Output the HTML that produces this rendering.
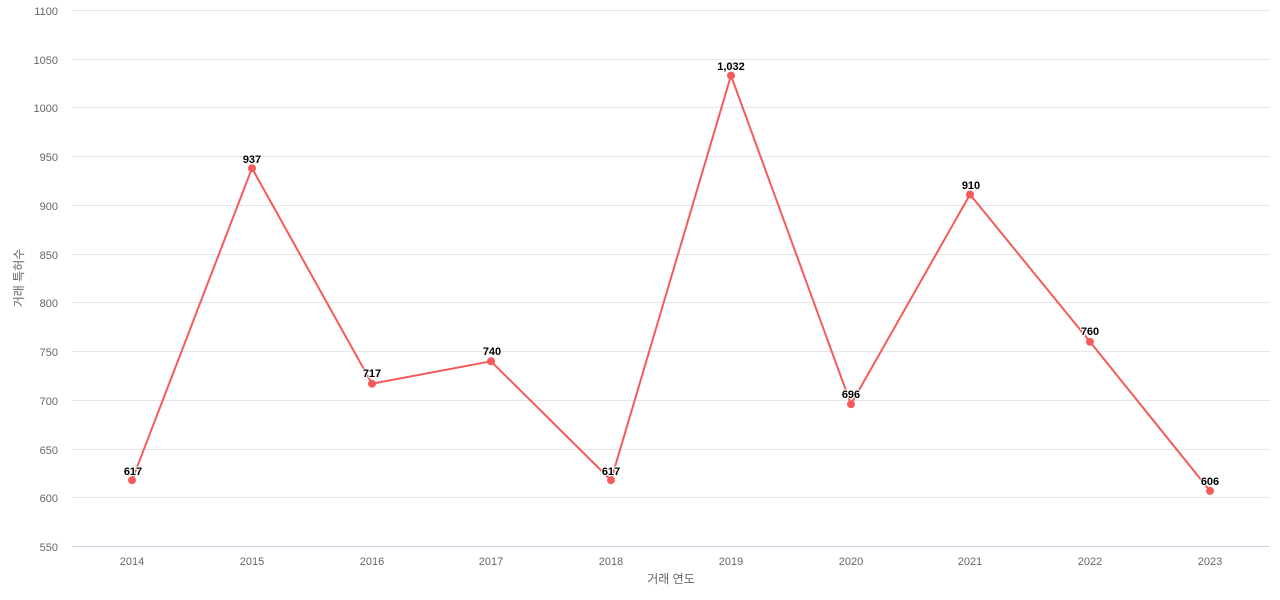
<!DOCTYPE html>
<html><head><meta charset="utf-8"><style>
body{margin:0;background:#fff}
svg{display:block;font-family:"Liberation Sans","Noto Sans CJK KR",sans-serif}
</style></head><body>
<svg width="1280" height="600" viewBox="0 0 1280 600">
<g stroke="#e6e6e6" stroke-width="1">
<line x1="72" x2="1270" y1="10.5" y2="10.5"/><line x1="72" x2="1270" y1="59.5" y2="59.5"/>
<line x1="72" x2="1270" y1="107.5" y2="107.5"/><line x1="72" x2="1270" y1="156.5" y2="156.5"/>
<line x1="72" x2="1270" y1="205.5" y2="205.5"/><line x1="72" x2="1270" y1="254.5" y2="254.5"/>
<line x1="72" x2="1270" y1="302.5" y2="302.5"/><line x1="72" x2="1270" y1="351.5" y2="351.5"/>
<line x1="72" x2="1270" y1="400.5" y2="400.5"/><line x1="72" x2="1270" y1="449.5" y2="449.5"/>
<line x1="72" x2="1270" y1="497.5" y2="497.5"/>
</g>
<line x1="72" x2="1270" y1="546.5" y2="546.5" stroke="#ccd6eb"/>
<g fill="#666" font-size="11" text-anchor="end">
<text x="58" y="15">1100</text><text x="58" y="64">1050</text><text x="58" y="112">1000</text>
<text x="58" y="161">950</text><text x="58" y="210">900</text><text x="58" y="259">850</text>
<text x="58" y="307">800</text><text x="58" y="356">750</text><text x="58" y="405">700</text>
<text x="58" y="454">650</text><text x="58" y="502">600</text><text x="58" y="551">550</text>
</g>
<g fill="#666" font-size="11" text-anchor="middle">
<text x="132" y="565">2014</text><text x="252" y="565">2015</text><text x="372" y="565">2016</text>
<text x="491" y="565">2017</text><text x="611" y="565">2018</text><text x="731" y="565">2019</text>
<text x="851" y="565">2020</text><text x="970" y="565">2021</text><text x="1090" y="565">2022</text>
<text x="1210" y="565">2023</text>
<text x="671" y="583" font-size="12">거래 연도</text>
<text transform="translate(23,278) rotate(-90)" font-size="12">거래 특허수</text>
</g>
<polyline fill="none" stroke="#f45b5b" stroke-width="2" points="132,480.2 252,168.2 372,383.7 491,361.3 611,480.2 731,75.6 851,404.2 970,194.5 1090,341.8 1210,490.9"/>
<g fill="#f45b5b">
<circle cx="132" cy="480.2" r="4"/><circle cx="252" cy="168.2" r="4"/><circle cx="372" cy="383.7" r="4"/>
<circle cx="491" cy="361.3" r="4"/><circle cx="611" cy="480.2" r="4"/><circle cx="731" cy="75.6" r="4"/>
<circle cx="851" cy="404.2" r="4"/><circle cx="970" cy="194.5" r="4"/><circle cx="1090" cy="341.8" r="4"/>
<circle cx="1210" cy="490.9" r="4"/>
</g>
<g fill="#000" font-size="11" font-weight="bold" text-anchor="middle" stroke="#fff" stroke-width="2" paint-order="stroke">
<text x="133" y="475">617</text><text x="252" y="163">937</text><text x="372" y="377">717</text>
<text x="492" y="355">740</text><text x="611" y="475">617</text><text x="731" y="70">1,032</text>
<text x="851" y="398">696</text><text x="971" y="189">910</text><text x="1090" y="335">760</text>
<text x="1210" y="485">606</text>
</g>
</svg>
</body></html>
